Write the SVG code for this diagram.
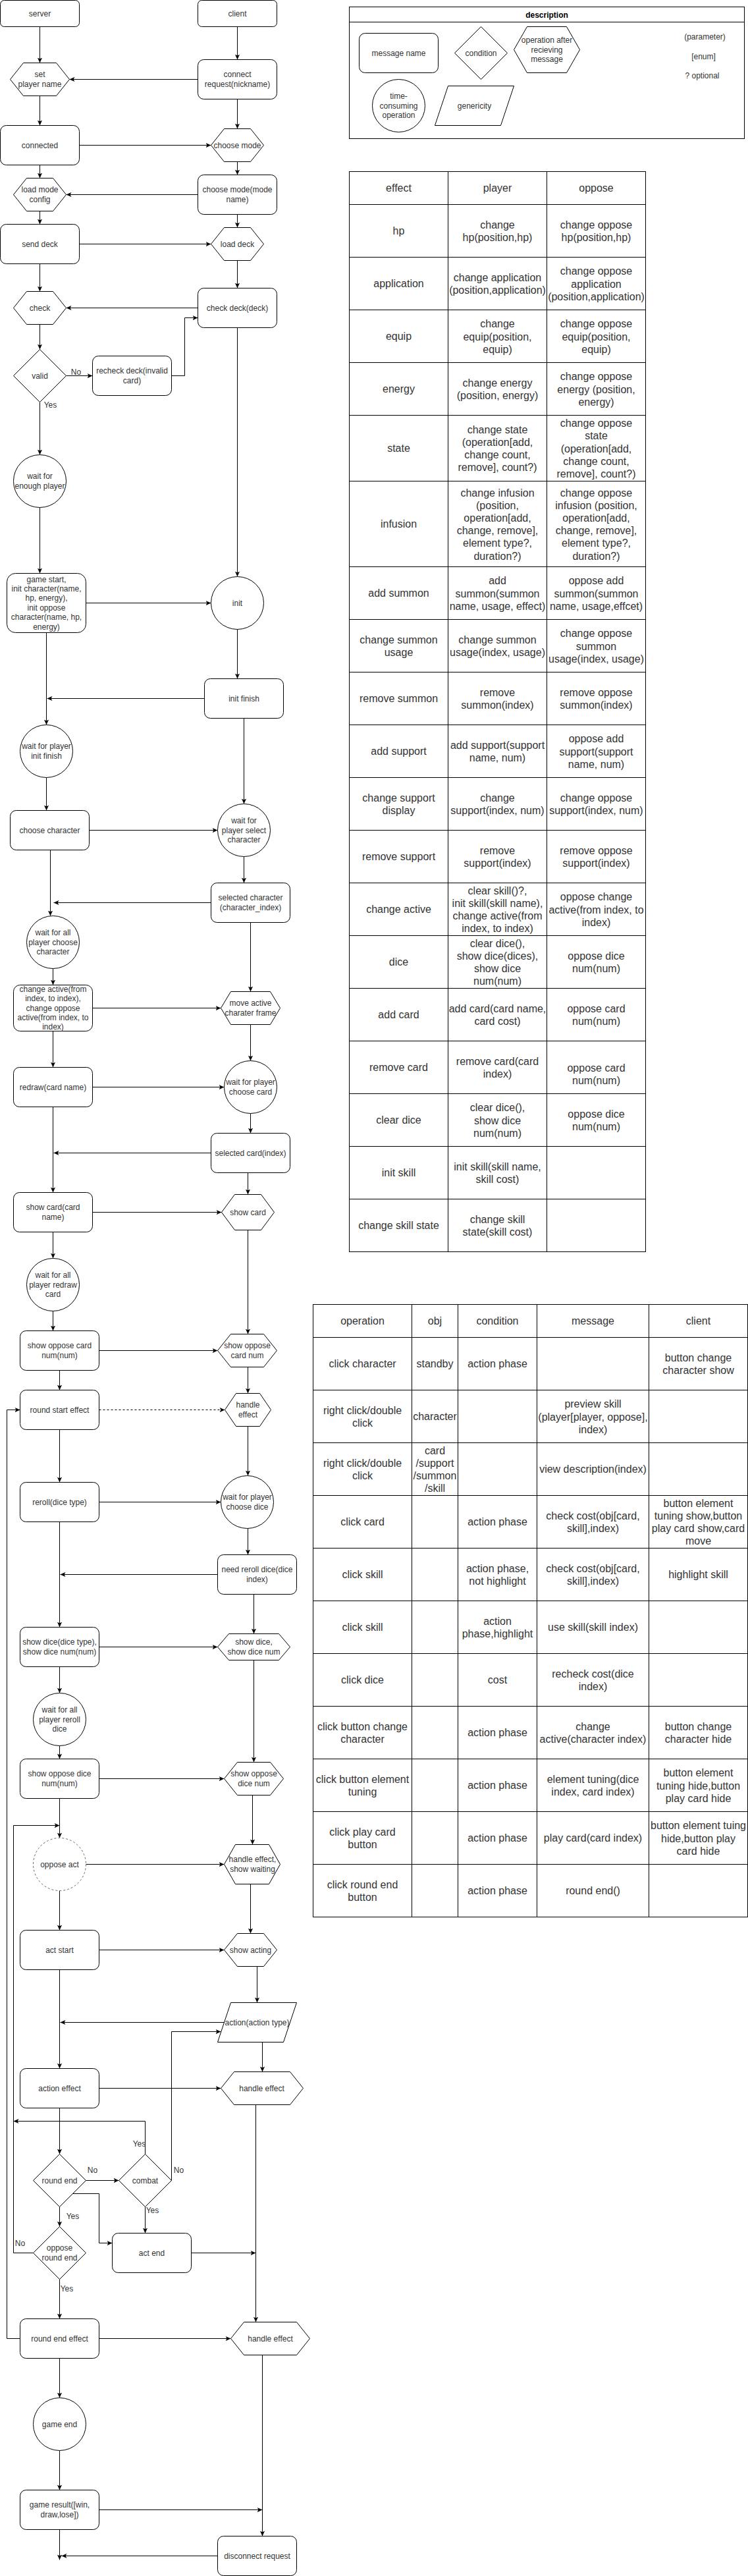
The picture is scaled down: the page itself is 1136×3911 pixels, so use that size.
<svg xmlns="http://www.w3.org/2000/svg" width="1136" height="3911" viewBox="0 0 1136 3911">
<style>
.n{fill:#fff;stroke:#000;stroke-width:1}
.d{fill:#fff;stroke:#666;stroke-width:1;stroke-dasharray:3 3}
.e{fill:none;stroke:#000;stroke-width:1;marker-end:url(#arr)}
.ed{fill:none;stroke:#000;stroke-width:1;stroke-dasharray:3 3;marker-end:url(#arr)}
.g{fill:none;stroke:#000;stroke-width:1}
.t{font-family:"Liberation Sans",Arial,sans-serif;font-size:12px;fill:#333;text-anchor:middle;dominant-baseline:central}
.b{font-weight:bold;fill:#000}
.tt{font-family:"Liberation Sans",Arial,sans-serif;font-size:16px;fill:#333;text-anchor:middle;dominant-baseline:central}
</style>
<defs>
<marker id="arr" viewBox="0 0 10 10" refX="10" refY="5" markerWidth="8" markerHeight="8" markerUnits="userSpaceOnUse" orient="auto"><path d="M0,0.5 L10,5 L0,9.5 L2.5,5 z" fill="#000"/></marker>
</defs>
<rect width="1136" height="3911" fill="#fff"/>
<g transform="translate(0.5,0.5)">
<!-- connectors -->
<g id="connectors">
<path class="e" d="M60,40 V95"/>
<path class="e" d="M360,40 V90"/>
<path class="e" d="M300,120 H105"/>
<path class="e" d="M60,145 V190"/>
<path class="e" d="M360,150 V195"/>
<path class="e" d="M120,220 H320"/>
<path class="e" d="M60,250 V270"/>
<path class="e" d="M360,245 V265"/>
<path class="e" d="M300,295 H100"/>
<path class="e" d="M60,320 V340"/>
<path class="e" d="M360,325 V345"/>
<path class="e" d="M120,370 H320"/>
<path class="e" d="M60,400 V442"/>
<path class="e" d="M360,395 V437"/>
<path class="e" d="M300,467 H100"/>
<path class="e" d="M60,492 V530"/>
<path class="e" d="M100,570 H140"/>
<path class="e" d="M260,570 H280 V482 H300"/>
<path class="e" d="M360,497 V875"/>
<path class="e" d="M60,610 V690"/>
<path class="e" d="M60,770 V870"/>
<path class="e" d="M130,915 H320"/>
<path class="e" d="M360,955 V1030"/>
<path class="e" d="M310,1060 H71"/>
<path class="e" d="M70,960 V1100"/>
<path class="e" d="M70,1180 V1230"/>
<path class="e" d="M370,1090 V1220"/>
<path class="e" d="M135,1260 H330"/>
<path class="e" d="M370,1300 V1340"/>
<path class="e" d="M320,1370 H81"/>
<path class="e" d="M76,1290 V1390"/>
<path class="e" d="M80,1470 V1495"/>
<path class="e" d="M380,1400 V1505"/>
<path class="e" d="M140,1530 H335"/>
<path class="e" d="M80,1565 V1620"/>
<path class="e" d="M380,1555 V1610"/>
<path class="e" d="M140,1650 H340"/>
<path class="e" d="M380,1690 V1720"/>
<path class="e" d="M320,1750 H81"/>
<path class="e" d="M80,1680 V1810"/>
<path class="e" d="M376,1780 V1813"/>
<path class="e" d="M140,1840 H336"/>
<path class="e" d="M80,1870 V1910"/>
<path class="e" d="M80,1990 V2020"/>
<path class="e" d="M376,1867 V2025"/>
<path class="e" d="M150,2050 H330"/>
<path class="e" d="M90,2080 V2110"/>
<path class="e" d="M376,2075 V2115"/>
<path class="ed" d="M150,2140 H341"/>
<path class="e" d="M90,2170 V2250"/>
<path class="e" d="M376,2165 V2240"/>
<path class="e" d="M150,2280 H335"/>
<path class="e" d="M376,2320 V2360"/>
<path class="e" d="M330,2390 H91"/>
<path class="e" d="M90,2310 V2470"/>
<path class="e" d="M385,2420 V2480"/>
<path class="e" d="M150,2500 H330"/>
<path class="e" d="M90,2530 V2570"/>
<path class="e" d="M90,2650 V2670"/>
<path class="e" d="M385,2520 V2675"/>
<path class="e" d="M150,2700 H340"/>
<path class="e" d="M383,2725 V2800"/>
<path class="e" d="M90,2730 V2790"/>
<path class="e" d="M130,2830 H340"/>
<path class="e" d="M90,2870 V2930"/>
<path class="e" d="M380,2860 V2935"/>
<path class="e" d="M150,2960 H340"/>
<path class="e" d="M390,2985 V3040"/>
<path class="e" d="M340,3070 H91"/>
<path class="e" d="M90,2990 V3140"/>
<path class="e" d="M398,3100 V3145"/>
<path class="e" d="M150,3170 H335"/>
<path class="e" d="M90,3200 V3270"/>
<path class="e" d="M130,3310 H180"/>
<path class="e" d="M220,3270 V3220 H20"/>
<path class="e" d="M260,3310 V3084 H335"/>
<path class="e" d="M220,3350 V3390"/>
<path class="e" d="M110,3330 H150 V3405 H170"/>
<path class="e" d="M290,3420 H388"/>
<path class="e" d="M388,3195 V3525"/>
<path class="e" d="M90,3350 V3380"/>
<path class="e" d="M50,3420 H20 V2771 H90"/>
<path class="e" d="M90,3460 V3520"/>
<path class="e" d="M30,3550 H10 V2140 H30"/>
<path class="e" d="M150,3550 H350"/>
<path class="e" d="M90,3580 V3640"/>
<path class="e" d="M398,3575 V3850"/>
<path class="e" d="M90,3720 V3780"/>
<path class="e" d="M150,3810 H398"/>
<path class="e" d="M330,3880 H93"/>
<path class="e" d="M90,3840 V3886"/>
<text class="t" x="115" y="564">No</text>
<text class="t" x="76" y="614">Yes</text>
<text class="t" x="211" y="3254">Yes</text>
<text class="t" x="140" y="3294">No</text>
<text class="t" x="271" y="3294">No</text>
<text class="t" x="231" y="3355">Yes</text>
<text class="t" x="110" y="3364">Yes</text>
<text class="t" x="30" y="3405">No</text>
<text class="t" x="101" y="3474">Yes</text>
</g>
<!-- nodes -->
<g id="server"><rect class="n" x="0" y="0" width="120" height="40" rx="6"/><text class="t" x="60" y="20">server</text></g>
<g id="client"><rect class="n" x="300" y="0" width="120" height="40" rx="6"/><text class="t" x="360" y="20">client</text></g>
<g id="set-player-name"><polygon class="n" points="15,120 35,95 85,95 105,120 85,145 35,145"/><text class="t"><tspan x="60" y="112.8">set</tspan><tspan x="60" dy="14.4">player name</tspan></text></g>
<g id="connect-request"><rect class="n" x="300" y="90" width="120" height="60" rx="9"/><text class="t"><tspan x="360" y="112.8">connect</tspan><tspan x="360" dy="14.4">request(nickname)</tspan></text></g>
<g id="connected"><rect class="n" x="0" y="190" width="120" height="60" rx="9"/><text class="t" x="60" y="220">connected</text></g>
<g id="choose-mode"><polygon class="n" points="320,220 340,195 380,195 400,220 380,245 340,245"/><text class="t" x="360" y="220">choose mode</text></g>
<g id="load-mode-config"><polygon class="n" points="20,295 40,270 80,270 100,295 80,320 40,320"/><text class="t"><tspan x="60" y="287.8">load mode</tspan><tspan x="60" dy="14.4">config</tspan></text></g>
<g id="choose-mode-name"><rect class="n" x="300" y="265" width="120" height="60" rx="9"/><text class="t"><tspan x="360" y="287.8">choose mode(mode</tspan><tspan x="360" dy="14.4">name)</tspan></text></g>
<g id="send-deck"><rect class="n" x="0" y="340" width="120" height="60" rx="9"/><text class="t" x="60" y="370">send deck</text></g>
<g id="load-deck"><polygon class="n" points="320,370 340,345 380,345 400,370 380,395 340,395"/><text class="t" x="360" y="370">load deck</text></g>
<g id="check"><polygon class="n" points="20,467 40,442 80,442 100,467 80,492 40,492"/><text class="t" x="60" y="467">check</text></g>
<g id="check-deck"><rect class="n" x="300" y="437" width="120" height="60" rx="9"/><text class="t" x="360" y="467">check deck(deck)</text></g>
<g id="valid"><polygon class="n" points="60,530 100,570 60,610 20,570"/><text class="t" x="60" y="570">valid</text></g>
<g id="recheck-deck"><rect class="n" x="140" y="540" width="120" height="60" rx="9"/><text class="t"><tspan x="200" y="562.8">recheck deck(invalid</tspan><tspan x="200" dy="14.4">card)</tspan></text></g>
<g id="wait-enough-player"><circle class="n" cx="60" cy="730" r="40"/><text class="t"><tspan x="60" y="722.8">wait for</tspan><tspan x="60" dy="14.4">enough player</tspan></text></g>
<g id="game-start"><rect class="n" x="10" y="870" width="120" height="90" rx="13"/><text class="t"><tspan x="70" y="879">game start,</tspan><tspan x="70" dy="14.4">init character(name,</tspan><tspan x="70" dy="14.4">hp, energy),</tspan><tspan x="70" dy="14.4">init oppose</tspan><tspan x="70" dy="14.4">character(name, hp,</tspan><tspan x="70" dy="14.4">energy)</tspan></text></g>
<g id="init"><circle class="n" cx="360" cy="915" r="40"/><text class="t" x="360" y="915">init</text></g>
<g id="init-finish"><rect class="n" x="310" y="1030" width="120" height="60" rx="9"/><text class="t" x="370" y="1060">init finish</text></g>
<g id="wait-init-finish"><circle class="n" cx="70" cy="1140" r="40"/><text class="t"><tspan x="70" y="1132.8">wait for player</tspan><tspan x="70" dy="14.4">init finish</tspan></text></g>
<g id="choose-character"><rect class="n" x="15" y="1230" width="120" height="60" rx="9"/><text class="t" x="75" y="1260">choose character</text></g>
<g id="wait-select-character"><circle class="n" cx="370" cy="1260" r="40"/><text class="t"><tspan x="370" y="1245.6">wait for</tspan><tspan x="370" dy="14.4">player select</tspan><tspan x="370" dy="14.4">character</tspan></text></g>
<g id="selected-character"><rect class="n" x="320" y="1340" width="120" height="60" rx="9"/><text class="t"><tspan x="380" y="1362.8">selected character</tspan><tspan x="380" dy="14.4">(character_index)</tspan></text></g>
<g id="wait-all-choose-character"><circle class="n" cx="80" cy="1430" r="40"/><text class="t"><tspan x="80" y="1415.6">wait for all</tspan><tspan x="80" dy="14.4">player choose</tspan><tspan x="80" dy="14.4">character</tspan></text></g>
<g id="change-active"><rect class="n" x="20" y="1495" width="120" height="70" rx="10"/><text class="t"><tspan x="80" y="1501.2">change active(from</tspan><tspan x="80" dy="14.4">index, to index),</tspan><tspan x="80" dy="14.4">change oppose</tspan><tspan x="80" dy="14.4">active(from index, to</tspan><tspan x="80" dy="14.4">index)</tspan></text></g>
<g id="move-active-frame"><polygon class="n" points="335,1530 350,1505 410,1505 425,1530 410,1555 350,1555"/><text class="t"><tspan x="380" y="1522.8">move active</tspan><tspan x="380" dy="14.4">charater frame</tspan></text></g>
<g id="redraw"><rect class="n" x="20" y="1620" width="120" height="60" rx="9"/><text class="t" x="80" y="1650">redraw(card name)</text></g>
<g id="wait-choose-card"><circle class="n" cx="380" cy="1650" r="40"/><text class="t"><tspan x="380" y="1642.8">wait for player</tspan><tspan x="380" dy="14.4">choose card</tspan></text></g>
<g id="selected-card"><rect class="n" x="320" y="1720" width="120" height="60" rx="9"/><text class="t" x="380" y="1750">selected card(index)</text></g>
<g id="show-card-name"><rect class="n" x="20" y="1810" width="120" height="60" rx="9"/><text class="t"><tspan x="80" y="1832.8">show card(card</tspan><tspan x="80" dy="14.4">name)</tspan></text></g>
<g id="show-card"><polygon class="n" points="336,1840 356,1813 396,1813 416,1840 396,1867 356,1867"/><text class="t" x="376" y="1840">show card</text></g>
<g id="wait-all-redraw"><circle class="n" cx="80" cy="1950" r="40"/><text class="t"><tspan x="80" y="1935.6">wait for all</tspan><tspan x="80" dy="14.4">player redraw</tspan><tspan x="80" dy="14.4">card</tspan></text></g>
<g id="show-oppose-card-num-msg"><rect class="n" x="30" y="2020" width="120" height="60" rx="9"/><text class="t"><tspan x="90" y="2042.8">show oppose card</tspan><tspan x="90" dy="14.4">num(num)</tspan></text></g>
<g id="show-oppose-card-num"><polygon class="n" points="330,2050 350,2025 400,2025 420,2050 400,2075 350,2075"/><text class="t"><tspan x="375" y="2042.8">show oppose</tspan><tspan x="375" dy="14.4">card num</tspan></text></g>
<g id="round-start-effect"><rect class="n" x="30" y="2110" width="120" height="60" rx="9"/><text class="t" x="90" y="2140">round start effect</text></g>
<g id="handle-effect-1"><polygon class="n" points="341,2140 358,2115 394,2115 411,2140 394,2165 358,2165"/><text class="t"><tspan x="376" y="2132.8">handle</tspan><tspan x="376" dy="14.4">effect</tspan></text></g>
<g id="reroll"><rect class="n" x="30" y="2250" width="120" height="60" rx="9"/><text class="t" x="90" y="2280">reroll(dice type)</text></g>
<g id="wait-choose-dice"><circle class="n" cx="375" cy="2280" r="40"/><text class="t"><tspan x="375" y="2272.8">wait for player</tspan><tspan x="375" dy="14.4">choose dice</tspan></text></g>
<g id="need-reroll-dice"><rect class="n" x="330" y="2360" width="120" height="60" rx="9"/><text class="t"><tspan x="390" y="2382.8">need reroll dice(dice</tspan><tspan x="390" dy="14.4">index)</tspan></text></g>
<g id="show-dice-msg"><rect class="n" x="30" y="2470" width="120" height="60" rx="9"/><text class="t"><tspan x="90" y="2492.8">show dice(dice type),</tspan><tspan x="90" dy="14.4">show dice num(num)</tspan></text></g>
<g id="show-dice"><polygon class="n" points="330,2500 347,2480 423,2480 440,2500 423,2520 347,2520"/><text class="t"><tspan x="385" y="2492.8">show dice,</tspan><tspan x="385" dy="14.4">show dice num</tspan></text></g>
<g id="wait-all-reroll"><circle class="n" cx="90" cy="2610" r="40"/><text class="t"><tspan x="90" y="2595.6">wait for all</tspan><tspan x="90" dy="14.4">player reroll</tspan><tspan x="90" dy="14.4">dice</tspan></text></g>
<g id="show-oppose-dice-num-msg"><rect class="n" x="30" y="2670" width="120" height="60" rx="9"/><text class="t"><tspan x="90" y="2692.8">show oppose dice</tspan><tspan x="90" dy="14.4">num(num)</tspan></text></g>
<g id="show-oppose-dice-num"><polygon class="n" points="340,2700 360,2675 410,2675 430,2700 410,2725 360,2725"/><text class="t"><tspan x="385" y="2692.8">show oppose</tspan><tspan x="385" dy="14.4">dice num</tspan></text></g>
<g id="oppose-act"><circle class="d" cx="90" cy="2830" r="40"/><text class="t" x="90" y="2830">oppose act</text></g>
<g id="handle-effect-waiting"><polygon class="n" points="340,2830 357,2800 408,2800 425,2830 408,2860 357,2860"/><text class="t"><tspan x="383" y="2822.8">handle effect,</tspan><tspan x="383" dy="14.4">show waiting</tspan></text></g>
<g id="act-start"><rect class="n" x="30" y="2930" width="120" height="60" rx="9"/><text class="t" x="90" y="2960">act start</text></g>
<g id="show-acting"><polygon class="n" points="340,2960 360,2935 400,2935 420,2960 400,2985 360,2985"/><text class="t" x="380" y="2960">show acting</text></g>
<g id="action"><polygon class="n" points="350,3040 450,3040 430,3100 330,3100"/><text class="t" x="390" y="3070">action(action type)</text></g>
<g id="action-effect"><rect class="n" x="30" y="3140" width="120" height="60" rx="9"/><text class="t" x="90" y="3170">action effect</text></g>
<g id="handle-effect-2"><polygon class="n" points="335,3170 355,3145 440,3145 460,3170 440,3195 355,3195"/><text class="t" x="397" y="3170">handle effect</text></g>
<g id="round-end"><polygon class="n" points="90,3270 130,3310 90,3350 50,3310"/><text class="t" x="90" y="3310">round end</text></g>
<g id="combat"><polygon class="n" points="220,3270 260,3310 220,3350 180,3310"/><text class="t" x="220" y="3310">combat</text></g>
<g id="act-end"><rect class="n" x="170" y="3390" width="120" height="60" rx="9"/><text class="t" x="230" y="3420">act end</text></g>
<g id="oppose-round-end"><polygon class="n" points="90,3380 130,3420 90,3460 50,3420"/><text class="t"><tspan x="90" y="3412.8">oppose</tspan><tspan x="90" dy="14.4">round end</tspan></text></g>
<g id="round-end-effect"><rect class="n" x="30" y="3520" width="120" height="60" rx="9"/><text class="t" x="90" y="3550">round end effect</text></g>
<g id="handle-effect-3"><polygon class="n" points="350,3550 370,3525 450,3525 470,3550 450,3575 370,3575"/><text class="t" x="410" y="3550">handle effect</text></g>
<g id="game-end"><circle class="n" cx="90" cy="3680" r="40"/><text class="t" x="90" y="3680">game end</text></g>
<g id="game-result"><rect class="n" x="30" y="3780" width="120" height="60" rx="9"/><text class="t"><tspan x="90" y="3802.8">game result([win,</tspan><tspan x="90" dy="14.4">draw,lose])</tspan></text></g>
<g id="disconnect-request"><rect class="n" x="330" y="3850" width="120" height="60" rx="9"/><text class="t" x="390" y="3880">disconnect request</text></g>

<!-- description legend -->
<g id="description">
<rect class="n" x="530" y="10" width="600" height="200"/>
<line class="g" x1="530" y1="33" x2="1130" y2="33"/>
<text class="t b" x="830" y="22">description</text>
<rect class="n" x="545" y="50" width="120" height="60" rx="9"/><text class="t" x="605" y="80">message name</text>
<polygon class="n" points="730,40 770,80 730,120 690,80"/><text class="t" x="730" y="80">condition</text>
<polygon class="n" points="780,75 800,40 860,40 880,75 860,110 800,110"/><text class="t"><tspan x="830" y="60.6">operation after</tspan><tspan x="830" dy="14.4">recieving</tspan><tspan x="830" dy="14.4">message</tspan></text>
<circle class="n" cx="605" cy="160" r="40"/><text class="t"><tspan x="605" y="145.6">time-</tspan><tspan x="605" dy="14.4">consuming</tspan><tspan x="605" dy="14.4">operation</tspan></text>
<polygon class="n" points="680,130 780,130 760,190 660,190"/><text class="t" x="720" y="160">genericity</text>
<text class="t" x="1070" y="55">(parameter)</text>
<text class="t" x="1068" y="85">[enum]</text>
<text class="t" x="1066" y="114">? optional</text>
</g>

<!-- effect table -->
<g id="effect-table">
<rect class="g" x="530" y="260" width="450" height="1640"/>
<path class="g" d="M680,260 V1900 M830,260 V1900 M530,310 H980 M530,390 H980 M530,470 H980 M530,550 H980 M530,630 H980 M530,730 H980 M530,860 H980 M530,940 H980 M530,1020 H980 M530,1100 H980 M530,1180 H980 M530,1260 H980 M530,1340 H980 M530,1420 H980 M530,1500 H980 M530,1580 H980 M530,1660 H980 M530,1740 H980 M530,1820 H980"/>
<text class="tt" x="605" y="285">effect</text><text class="tt" x="755" y="285">player</text><text class="tt" x="905" y="285">oppose</text>
<text class="tt" x="605" y="350">hp</text>
<text class="tt"><tspan x="755" y="340.4">change</tspan><tspan x="755" dy="19.2">hp(position,hp)</tspan></text>
<text class="tt"><tspan x="905" y="340.4">change oppose</tspan><tspan x="905" dy="19.2">hp(position,hp)</tspan></text>
<text class="tt" x="605" y="430">application</text>
<text class="tt"><tspan x="755" y="420.4">change application</tspan><tspan x="755" dy="19.2">(position,application)</tspan></text>
<text class="tt"><tspan x="905" y="410.8">change oppose</tspan><tspan x="905" dy="19.2">application</tspan><tspan x="905" dy="19.2">(position,application)</tspan></text>
<text class="tt" x="605" y="510">equip</text>
<text class="tt"><tspan x="755" y="490.8">change</tspan><tspan x="755" dy="19.2">equip(position,</tspan><tspan x="755" dy="19.2">equip)</tspan></text>
<text class="tt"><tspan x="905" y="490.8">change oppose</tspan><tspan x="905" dy="19.2">equip(position,</tspan><tspan x="905" dy="19.2">equip)</tspan></text>
<text class="tt" x="605" y="590">energy</text>
<text class="tt"><tspan x="755" y="580.4">change energy</tspan><tspan x="755" dy="19.2">(position, energy)</tspan></text>
<text class="tt"><tspan x="905" y="570.8">change oppose</tspan><tspan x="905" dy="19.2">energy (position,</tspan><tspan x="905" dy="19.2">energy)</tspan></text>
<text class="tt" x="605" y="680">state</text>
<text class="tt"><tspan x="755" y="651.2">change state</tspan><tspan x="755" dy="19.2">(operation[add,</tspan><tspan x="755" dy="19.2">change count,</tspan><tspan x="755" dy="19.2">remove], count?)</tspan></text>
<text class="tt"><tspan x="905" y="641.6">change oppose</tspan><tspan x="905" dy="19.2">state</tspan><tspan x="905" dy="19.2">(operation[add,</tspan><tspan x="905" dy="19.2">change count,</tspan><tspan x="905" dy="19.2">remove], count?)</tspan></text>
<text class="tt" x="605" y="795">infusion</text>
<text class="tt"><tspan x="755" y="747">change infusion</tspan><tspan x="755" dy="19.2">(position,</tspan><tspan x="755" dy="19.2">operation[add,</tspan><tspan x="755" dy="19.2">change, remove],</tspan><tspan x="755" dy="19.2">element type?,</tspan><tspan x="755" dy="19.2">duration?)</tspan></text>
<text class="tt"><tspan x="905" y="747">change oppose</tspan><tspan x="905" dy="19.2">infusion (position,</tspan><tspan x="905" dy="19.2">operation[add,</tspan><tspan x="905" dy="19.2">change, remove],</tspan><tspan x="905" dy="19.2">element type?,</tspan><tspan x="905" dy="19.2">duration?)</tspan></text>
<text class="tt" x="605" y="900">add summon</text>
<text class="tt"><tspan x="755" y="880.8">add</tspan><tspan x="755" dy="19.2">summon(summon</tspan><tspan x="755" dy="19.2">name, usage, effect)</tspan></text>
<text class="tt"><tspan x="905" y="880.8">oppose add</tspan><tspan x="905" dy="19.2">summon(summon</tspan><tspan x="905" dy="19.2">name, usage,effcet)</tspan></text>
<text class="tt"><tspan x="605" y="970.4">change summon</tspan><tspan x="605" dy="19.2">usage</tspan></text>
<text class="tt"><tspan x="755" y="970.4">change summon</tspan><tspan x="755" dy="19.2">usage(index, usage)</tspan></text>
<text class="tt"><tspan x="905" y="960.8">change oppose</tspan><tspan x="905" dy="19.2">summon</tspan><tspan x="905" dy="19.2">usage(index, usage)</tspan></text>
<text class="tt" x="605" y="1060">remove summon</text>
<text class="tt"><tspan x="755" y="1050.4">remove</tspan><tspan x="755" dy="19.2">summon(index)</tspan></text>
<text class="tt"><tspan x="905" y="1050.4">remove oppose</tspan><tspan x="905" dy="19.2">summon(index)</tspan></text>
<text class="tt" x="605" y="1140">add support</text>
<text class="tt"><tspan x="755" y="1130.4">add support(support</tspan><tspan x="755" dy="19.2">name, num)</tspan></text>
<text class="tt"><tspan x="905" y="1120.8">oppose add</tspan><tspan x="905" dy="19.2">support(support</tspan><tspan x="905" dy="19.2">name, num)</tspan></text>
<text class="tt"><tspan x="605" y="1210.4">change support</tspan><tspan x="605" dy="19.2">display</tspan></text>
<text class="tt"><tspan x="755" y="1210.4">change</tspan><tspan x="755" dy="19.2">support(index, num)</tspan></text>
<text class="tt"><tspan x="905" y="1210.4">change oppose</tspan><tspan x="905" dy="19.2">support(index, num)</tspan></text>
<text class="tt" x="605" y="1300">remove support</text>
<text class="tt"><tspan x="755" y="1290.4">remove</tspan><tspan x="755" dy="19.2">support(index)</tspan></text>
<text class="tt"><tspan x="905" y="1290.4">remove oppose</tspan><tspan x="905" dy="19.2">support(index)</tspan></text>
<text class="tt" x="605" y="1380">change active</text>
<text class="tt"><tspan x="755" y="1351.2">clear skill()?,</tspan><tspan x="755" dy="19.2">init skill(skill name),</tspan><tspan x="755" dy="19.2">change active(from</tspan><tspan x="755" dy="19.2">index, to index)</tspan></text>
<text class="tt"><tspan x="905" y="1360.8">oppose change</tspan><tspan x="905" dy="19.2">active(from index, to</tspan><tspan x="905" dy="19.2">index)</tspan></text>
<text class="tt" x="605" y="1460">dice</text>
<text class="tt"><tspan x="755" y="1431.2">clear dice(),</tspan><tspan x="755" dy="19.2">show dice(dices),</tspan><tspan x="755" dy="19.2">show dice</tspan><tspan x="755" dy="19.2">num(num)</tspan></text>
<text class="tt"><tspan x="905" y="1450.4">oppose dice</tspan><tspan x="905" dy="19.2">num(num)</tspan></text>
<text class="tt" x="605" y="1540">add card</text>
<text class="tt"><tspan x="755" y="1530.4">add card(card name,</tspan><tspan x="755" dy="19.2">card cost)</tspan></text>
<text class="tt"><tspan x="905" y="1530.4">oppose card</tspan><tspan x="905" dy="19.2">num(num)</tspan></text>
<text class="tt" x="605" y="1620">remove card</text>
<text class="tt"><tspan x="755" y="1610.4">remove card(card</tspan><tspan x="755" dy="19.2">index)</tspan></text>
<text class="tt"><tspan x="905" y="1620.4">oppose card</tspan><tspan x="905" dy="19.2">num(num)</tspan></text>
<text class="tt" x="605" y="1700">clear dice</text>
<text class="tt"><tspan x="755" y="1680.8">clear dice(),</tspan><tspan x="755" dy="19.2">show dice</tspan><tspan x="755" dy="19.2">num(num)</tspan></text>
<text class="tt"><tspan x="905" y="1690.4">oppose dice</tspan><tspan x="905" dy="19.2">num(num)</tspan></text>
<text class="tt" x="605" y="1780">init skill</text>
<text class="tt"><tspan x="755" y="1770.4">init skill(skill name,</tspan><tspan x="755" dy="19.2">skill cost)</tspan></text>
<text class="tt" x="605" y="1860">change skill state</text>
<text class="tt"><tspan x="755" y="1850.4">change skill</tspan><tspan x="755" dy="19.2">state(skill cost)</tspan></text>
</g>

<!-- operation table -->
<g id="operation-table">
<rect class="g" x="475" y="1980" width="660" height="930"/>
<path class="g" d="M625,1980 V2910 M695,1980 V2910 M815,1980 V2910 M985,1980 V2910 M475,2030 H1135 M475,2110 H1135 M475,2190 H1135 M475,2270 H1135 M475,2350 H1135 M475,2430 H1135 M475,2510 H1135 M475,2590 H1135 M475,2670 H1135 M475,2750 H1135 M475,2830 H1135"/>
<text class="tt" x="550" y="2005">operation</text><text class="tt" x="660" y="2005">obj</text><text class="tt" x="755" y="2005">condition</text><text class="tt" x="900" y="2005">message</text><text class="tt" x="1060" y="2005">client</text>
<text class="tt" x="550" y="2070">click character</text><text class="tt" x="660" y="2070">standby</text><text class="tt" x="755" y="2070">action phase</text>
<text class="tt"><tspan x="1060" y="2060.4">button change</tspan><tspan x="1060" dy="19.2">character show</tspan></text>
<text class="tt"><tspan x="550" y="2140.4">right click/double</tspan><tspan x="550" dy="19.2">click</tspan></text>
<text class="tt" x="660" y="2150">character</text>
<text class="tt"><tspan x="900" y="2130.8">preview skill</tspan><tspan x="900" dy="19.2">(player[player, oppose],</tspan><tspan x="900" dy="19.2">index)</tspan></text>
<text class="tt"><tspan x="550" y="2220.4">right click/double</tspan><tspan x="550" dy="19.2">click</tspan></text>
<text class="tt"><tspan x="660" y="2201.2">card</tspan><tspan x="660" dy="19.2">/support</tspan><tspan x="660" dy="19.2">/summon</tspan><tspan x="660" dy="19.2">/skill</tspan></text>
<text class="tt" x="900" y="2230">view description(index)</text>
<text class="tt" x="550" y="2310">click card</text><text class="tt" x="755" y="2310">action phase</text>
<text class="tt"><tspan x="900" y="2300.4">check cost(obj[card,</tspan><tspan x="900" dy="19.2">skill],index)</tspan></text>
<text class="tt"><tspan x="1060" y="2281.2">button element</tspan><tspan x="1060" dy="19.2">tuning show,button</tspan><tspan x="1060" dy="19.2">play card show,card</tspan><tspan x="1060" dy="19.2">move</tspan></text>
<text class="tt" x="550" y="2390">click skill</text>
<text class="tt"><tspan x="755" y="2380.4">action phase,</tspan><tspan x="755" dy="19.2">not highlight</tspan></text>
<text class="tt"><tspan x="900" y="2380.4">check cost(obj[card,</tspan><tspan x="900" dy="19.2">skill],index)</tspan></text>
<text class="tt" x="1060" y="2390">highlight skill</text>
<text class="tt" x="550" y="2470">click skill</text>
<text class="tt"><tspan x="755" y="2460.4">action</tspan><tspan x="755" dy="19.2">phase,highlight</tspan></text>
<text class="tt" x="900" y="2470">use skill(skill index)</text>
<text class="tt" x="550" y="2550">click dice</text><text class="tt" x="755" y="2550">cost</text>
<text class="tt"><tspan x="900" y="2540.4">recheck cost(dice</tspan><tspan x="900" dy="19.2">index)</tspan></text>
<text class="tt"><tspan x="550" y="2620.4">click button change</tspan><tspan x="550" dy="19.2">character</tspan></text>
<text class="tt" x="755" y="2630">action phase</text>
<text class="tt"><tspan x="900" y="2620.4">change</tspan><tspan x="900" dy="19.2">active(character index)</tspan></text>
<text class="tt"><tspan x="1060" y="2620.4">button change</tspan><tspan x="1060" dy="19.2">character hide</tspan></text>
<text class="tt"><tspan x="550" y="2700.4">click button element</tspan><tspan x="550" dy="19.2">tuning</tspan></text>
<text class="tt" x="755" y="2710">action phase</text>
<text class="tt"><tspan x="900" y="2700.4">element tuning(dice</tspan><tspan x="900" dy="19.2">index, card index)</tspan></text>
<text class="tt"><tspan x="1060" y="2690.8">button element</tspan><tspan x="1060" dy="19.2">tuning hide,button</tspan><tspan x="1060" dy="19.2">play card hide</tspan></text>
<text class="tt"><tspan x="550" y="2780.4">click play card</tspan><tspan x="550" dy="19.2">button</tspan></text>
<text class="tt" x="755" y="2790">action phase</text>
<text class="tt" x="900" y="2790">play card(card index)</text>
<text class="tt"><tspan x="1060" y="2770.8">button element tuing</tspan><tspan x="1060" dy="19.2">hide,button play</tspan><tspan x="1060" dy="19.2">card hide</tspan></text>
<text class="tt"><tspan x="550" y="2860.4">click round end</tspan><tspan x="550" dy="19.2">button</tspan></text>
<text class="tt" x="755" y="2870">action phase</text>
<text class="tt" x="900" y="2870">round end()</text>
</g>
</g>
</svg>
